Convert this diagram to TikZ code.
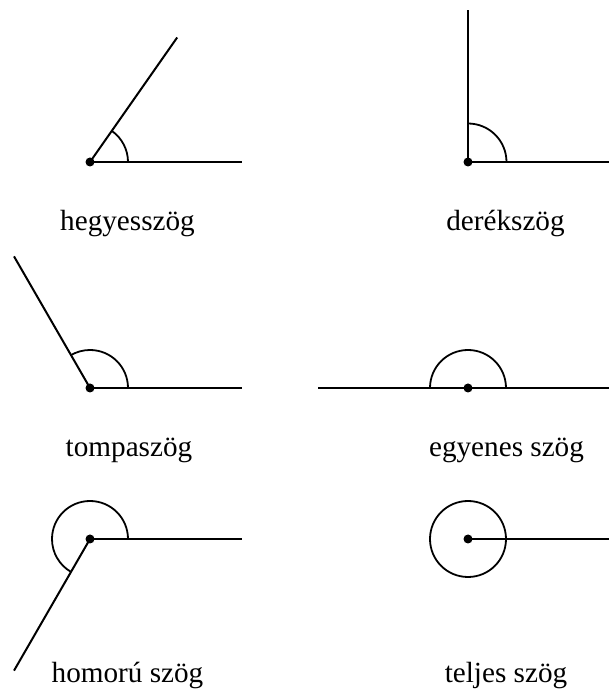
\documentclass[tikz,border=0pt]{standalone}
\usepackage{fontspec}
\setmainfont{Liberation Serif}
\usetikzlibrary{calc}
\tikzset{
  ray/.style={line width=2pt},
  anglearc/.style={line width=1.8pt},
  vdot/.style={circle,fill=black,inner sep=0pt,minimum size=9pt},
  lbl/.style={anchor=base,font=\fontsize{29.2}{34}\selectfont,inner sep=0pt}
}
\begin{document}
\begin{tikzpicture}[x=1pt,y=1pt]
\useasboundingbox (0,0) rectangle (609,689);
% hegyesszog
\coordinate (A) at (90,527);
\coordinate (A1) at (242,527);
\coordinate (A2) at ($(A)+(55:152)$);
\draw[ray] (A) -- (A1);
\draw[ray] (A) -- (A2);
\draw[anglearc] ($(A)+(38,0)$) arc[start angle=0,end angle=55,radius=38];
\node[vdot] (a) at (A) {};
\node[lbl] (la) at (127.5,458) {hegyesszög};
% derekszog
\coordinate (B) at (468,527);
\coordinate (B1) at (609,527);
\coordinate (B2) at (468,679);
\draw[ray] (B) -- (B1);
\draw[ray] (B) -- (B2);
\draw[anglearc] ($(B)+(38.5,0)$) arc[start angle=0,end angle=90,radius=38.5];
\node[vdot] (b) at (B) {};
\node[lbl] (lb) at (505.5,458) {derékszög};
% tompaszog
\coordinate (C) at (90,301);
\coordinate (C1) at (242,301);
\coordinate (C2) at ($(C)+(120:152)$);
\draw[ray] (C) -- (C1);
\draw[ray] (C) -- (C2);
\draw[anglearc] ($(C)+(38,0)$) arc[start angle=0,end angle=120,radius=38];
\node[vdot] (c) at (C) {};
\node[lbl] (lc) at (129,232) {tompaszög};
% egyenes szog
\coordinate (D) at (468,301);
\coordinate (D1) at (609,301);
\coordinate (D2) at (318,301);
\draw[ray] (D2) -- (D1);
\draw[anglearc] ($(D)+(38,0)$) arc[start angle=0,end angle=180,radius=38];
\node[vdot] (d) at (D) {};
\node[lbl] (ld) at (506.5,232) {egyenes szög};
% homoru szog
\coordinate (E) at (90,150);
\coordinate (E1) at (242,150);
\coordinate (E2) at ($(E)+(240:152)$);
\draw[ray] (E) -- (E1);
\draw[ray] (E) -- (E2);
\draw[anglearc] ($(E)+(38,0)$) arc[start angle=0,end angle=240,radius=38];
\node[vdot] (e) at (E) {};
\node[lbl] (le) at (127.5,6) {homorú szög};
% teljes szog
\coordinate (F) at (468,150);
\coordinate (F1) at (609,150);
\draw[ray] (F) -- (F1);
\draw[anglearc] (F) circle[radius=38];
\node[vdot] (f) at (F) {};
\node[lbl] (lf) at (506,6) {teljes szög};
\end{tikzpicture}
\end{document}
